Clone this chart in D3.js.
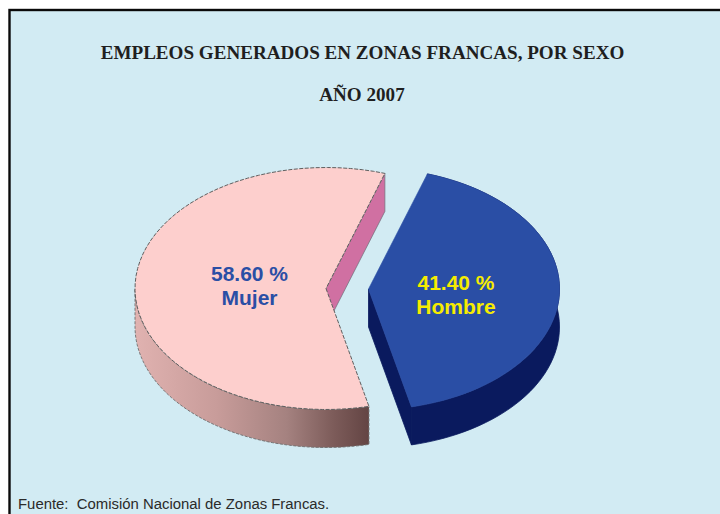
<!DOCTYPE html>
<html><head><meta charset="utf-8">
<script src="https://cdn.jsdelivr.net/npm/d3@7"></script>
<style>html,body{margin:0;padding:0;background:#fff}svg{display:block}</style>
</head><body><svg id="c" width="720" height="514"></svg>
<script>
const categories = ["Mujer", "Hombre"];
const percentages = [58.6, 41.4];
const titleLines = ["EMPLEOS GENERADOS EN ZONAS FRANCAS, POR SEXO", "AÑO 2007"];
const sourceNote = "Fuente:  Comisión Nacional de Zonas Francas.";

const topColors = ["#fdcfcd", "#2a4ea5"];
const innerWallColors = ["#d070a2", "#0a1a5e"];
const labelColors = ["#2a4ea5", "#f6ec00"];

const svg = d3.select("#c");
const defs = svg.append("defs");
const grad = defs.append("linearGradient").attr("id","wallPink").attr("gradientUnits","userSpaceOnUse")
  .attr("x1",135).attr("x2",368).attr("y1",0).attr("y2",0);
[[0,"#e0b2b0"],[0.35,"#c89c9a"],[0.65,"#a58280"],[0.85,"#7d5c5a"],[1,"#644544"]].forEach(d=>
  grad.append("stop").attr("offset",d[0]).attr("stop-color",d[1]));

svg.append("rect").attr("width",720).attr("height",514).attr("fill","#fff");
svg.append("rect").attr("x",9.5).attr("y",10).attr("width",720).attr("height",520)
  .attr("fill","#d2ebf3").attr("stroke","#0a0a0a").attr("stroke-width",2.4);

const rx = 191, ry = 121, depth = 38;
const centers = [{x:326,y:288.5},{x:368.5,y:289}];
const startDeg = 167;
const pie = d3.pie().sort(null).startAngle(startDeg*Math.PI/180).endAngle((startDeg+360)*Math.PI/180);
const arcs = pie(percentages);

const px = (c,a)=>c.x+rx*Math.sin(a), py=(c,a)=>c.y-ry*Math.cos(a);
const sample = (c,a0,a1,dy)=>d3.range(0,61).map(i=>{const a=a0+(a1-a0)*i/60;return [px(c,a),py(c,a)+dy];});
const line = d3.line();

function topPath(c,a){return line([[c.x,c.y],...sample(c,a.startAngle,a.endAngle,0)])+"Z";}
function outerWall(c,a0,a1){return line([...sample(c,a0,a1,0),...sample(c,a1,a0,depth)])+"Z";}

// Mujer
{
  const c=centers[0], a=arcs[0];
  const e=a.endAngle;
  svg.append("path").attr("d",line([[c.x,c.y],[px(c,e),py(c,e)],[px(c,e),py(c,e)+depth],[c.x,c.y+depth]])+"Z")
    .attr("fill",innerWallColors[0]).attr("stroke","#6f6f78").attr("stroke-width",0.7);
  svg.append("path").attr("d",outerWall(c,a.startAngle,Math.PI*1.5)).attr("fill","url(#wallPink)")
    .attr("stroke","#6e6e6e").attr("stroke-width",0.9).attr("stroke-dasharray","3 1.5");
  svg.append("path").attr("d",topPath(c,a)).attr("fill",topColors[0])
    .attr("stroke","#5f5f5f").attr("stroke-width",1).attr("stroke-dasharray","4 1.5");
}
// Hombre
{
  const c=centers[1], a=arcs[1];
  const s=a.startAngle,e=a.endAngle;
  svg.append("path").attr("d",outerWall(c,s,e)).attr("fill",innerWallColors[1])
    .attr("stroke",innerWallColors[1]).attr("stroke-width",0.8);
  svg.append("path").attr("d",line([[c.x,c.y],[px(c,e),py(c,e)],[px(c,e),py(c,e)+depth],[c.x,c.y+depth]])+"Z")
    .attr("fill",innerWallColors[1]).attr("stroke",innerWallColors[1]).attr("stroke-width",0.8);
  svg.append("path").attr("d",topPath(c,a)).attr("fill",topColors[1])
    .attr("stroke","#2a4ea5").attr("stroke-width",0.6);
}

const fmt=d=>d3.format(".2f")(d)+" %";
const labelPos=[[249.5,280.5,304.5],[456,289.5,313.5]];
categories.forEach((n,i)=>{
  const g=svg.append("g").attr("font-family","Liberation Sans, Arial, sans-serif").attr("font-weight","bold")
    .attr("font-size",21).attr("fill",labelColors[i]).attr("text-anchor","middle");
  g.append("text").attr("x",labelPos[i][0]).attr("y",labelPos[i][1]).text(fmt(percentages[i]));
  g.append("text").attr("x",labelPos[i][0]).attr("y",labelPos[i][2]).text(n);
});
titleLines.forEach((t,i)=>svg.append("text").attr("x",i?362:362.5).attr("y",i?101:59).attr("text-anchor","middle")
  .attr("font-family","Liberation Serif, Times New Roman, serif").attr("font-weight","bold")
  .attr("font-size",19.1).attr("fill","#1f1f1f").text(t));
svg.append("text").attr("x",18).attr("y",508.5).attr("font-family","Liberation Sans, Arial, sans-serif")
  .attr("font-size",14.9).attr("fill","#2a2a2a").style("white-space","pre").text(sourceNote);
</script></body></html>
